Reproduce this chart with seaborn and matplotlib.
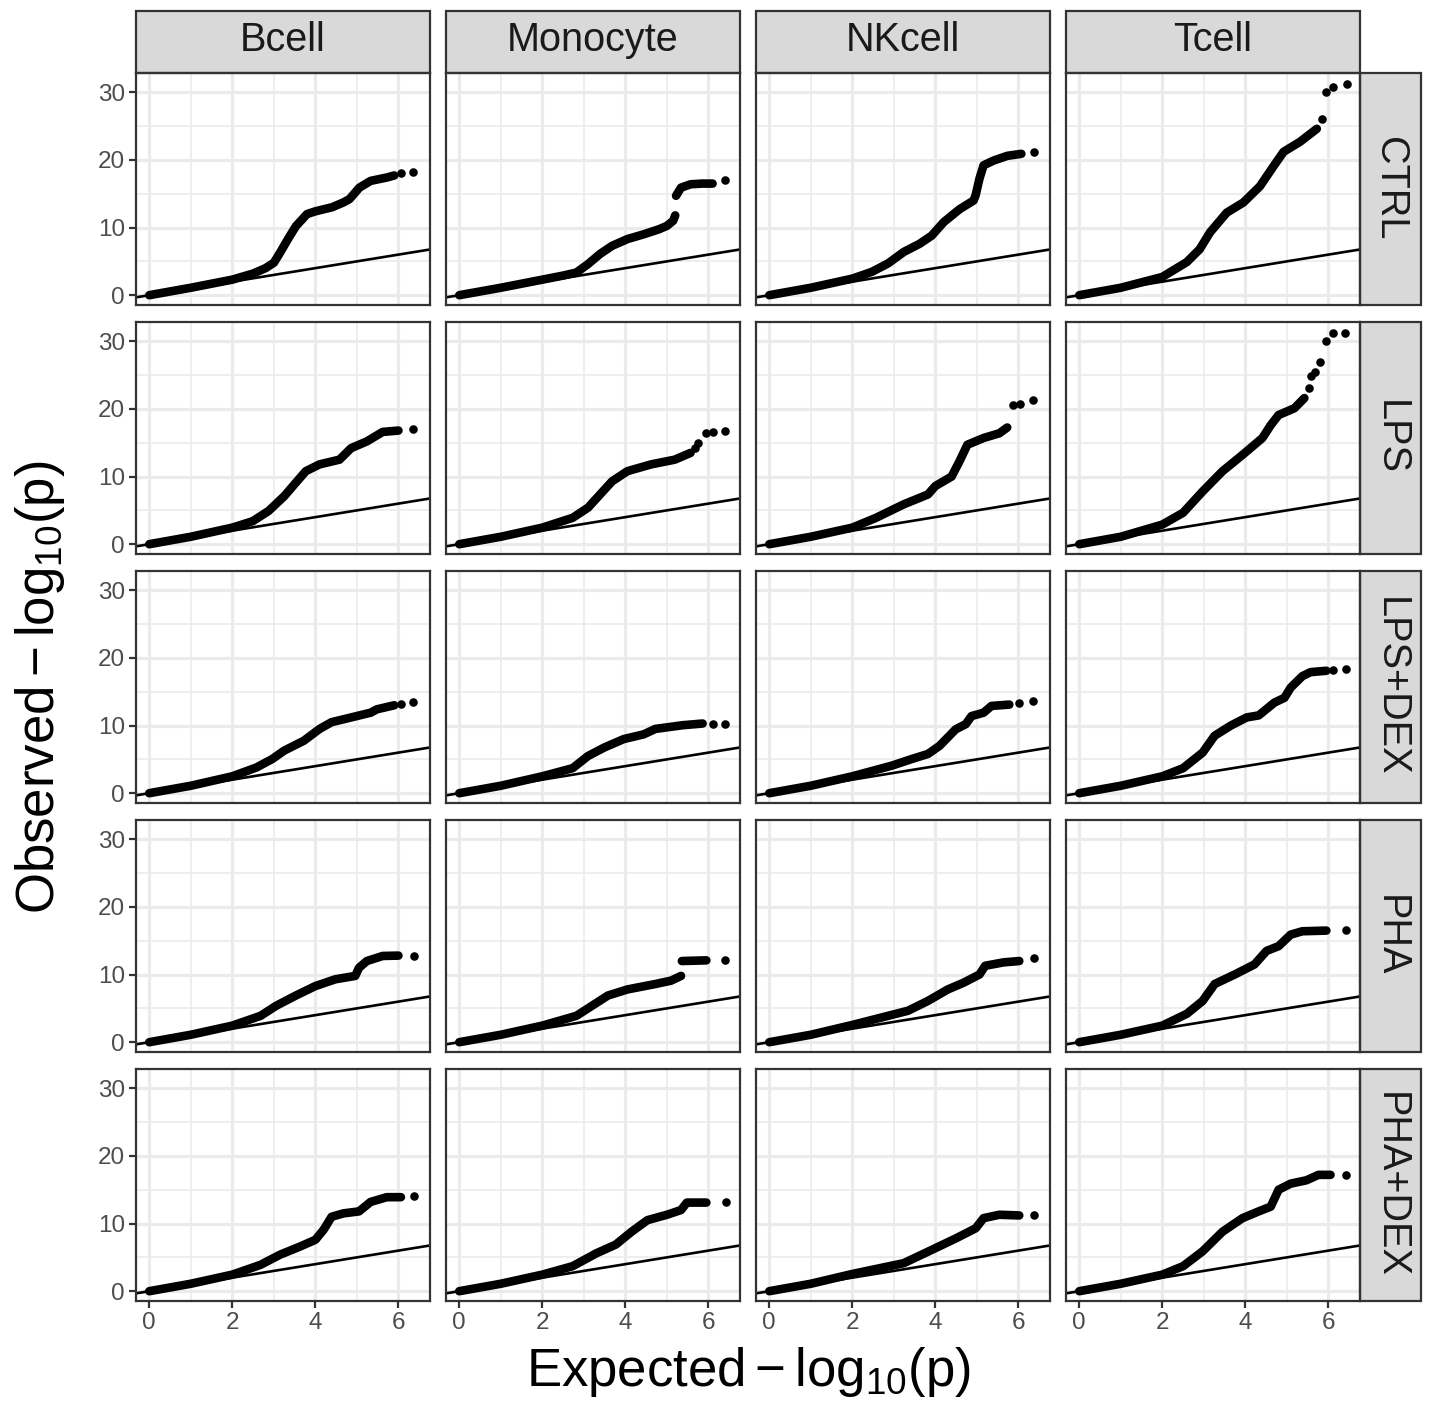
import numpy as np
import pandas as pd
import matplotlib
matplotlib.use("Agg")
import matplotlib.pyplot as plt
from matplotlib.patches import Rectangle
from matplotlib.ticker import FixedLocator
import seaborn as sns

cells = ["Bcell", "Monocyte", "NKcell", "Tcell"]
treatments = ["CTRL", "LPS", "LPS+DEX", "PHA", "PHA+DEX"]
nan = np.nan

# dense part of each QQ curve (expected vs observed -log10 p)
# nan marks a jump in the curve
bcell_ctrl_x = [0, 1, 2, 2.5, 2.8, 3.0, 3.15, 3.34, 3.53, 3.8, 4.0, 4.4, 4.67, 4.82, 5.06, 5.33, 5.72, 5.9]
bcell_ctrl_y = [0, 1.1, 2.3, 3.2, 4.0, 4.8, 6.3, 8.3, 10.2, 12.0, 12.4, 13.0, 13.7, 14.2, 15.9, 16.9, 17.4, 17.7]
bcell_ctrl_tail_x = [6.06, 6.36]
bcell_ctrl_tail_y = [18.1, 18.2]

monocyte_ctrl_x = [0, 1, 2, 2.5, 2.82, 3.1, 3.39, 3.68, 4.05, 4.44, 4.81, 5.0, 5.15, 5.2, nan, 5.22, 5.34, 5.57, 5.85, 6.1]
monocyte_ctrl_y = [0, 1.1, 2.3, 2.9, 3.35, 4.6, 6.1, 7.3, 8.3, 9.0, 9.75, 10.25, 11.0, 11.8, nan, 14.7, 15.9, 16.4, 16.5, 16.5]
monocyte_ctrl_tail_x = [6.4]
monocyte_ctrl_tail_y = [17.0]

nkcell_ctrl_x = [0, 1, 2, 2.47, 2.86, 3.24, 3.62, 3.91, 4.2, 4.58, 4.92, 4.97, 5.06, 5.16, 5.4, 5.73, 6.07]
nkcell_ctrl_y = [0, 1.1, 2.45, 3.45, 4.7, 6.4, 7.6, 8.8, 10.8, 12.7, 14.0, 14.8, 17.2, 19.2, 19.9, 20.6, 20.9]
nkcell_ctrl_tail_x = [6.38]
nkcell_ctrl_tail_y = [21.1]

tcell_ctrl_x = [0, 1, 2, 2.59, 2.9, 3.15, 3.55, 3.95, 4.35, 4.67, 4.92, 5.32, 5.72]
tcell_ctrl_y = [0, 1.1, 2.7, 4.9, 6.8, 9.3, 12.2, 13.7, 16.1, 19.0, 21.2, 22.7, 24.6]
tcell_ctrl_tail_x = [5.84, 5.94, 6.12, 6.44]
tcell_ctrl_tail_y = [26.1, 30.0, 30.8, 31.2]

bcell_lps_x = [0, 1, 2, 2.49, 2.87, 3.25, 3.53, 3.77, 4.1, 4.58, 4.86, 5.24, 5.62, 6.0]
bcell_lps_y = [0, 1.1, 2.45, 3.4, 4.9, 7.1, 9.1, 10.8, 11.8, 12.5, 14.2, 15.2, 16.6, 16.8]
bcell_lps_tail_x = [6.36]
bcell_lps_tail_y = [17.1]

monocyte_lps_x = [0, 1, 2, 2.73, 3.1, 3.39, 3.68, 4.05, 4.62, 5.19, 5.57]
monocyte_lps_y = [0, 1.1, 2.45, 3.9, 5.4, 7.35, 9.3, 10.8, 11.8, 12.5, 13.5]
monocyte_lps_tail_x = [5.67, 5.76, 5.94, 6.1, 6.39]
monocyte_lps_tail_y = [14.2, 14.95, 16.4, 16.6, 16.8]

nkcell_lps_x = [0, 1, 2, 2.57, 3.24, 3.82, 4.0, 4.39, 4.58, 4.77, 5.16, 5.54, 5.73]
nkcell_lps_y = [0, 1.1, 2.45, 3.9, 5.9, 7.35, 8.6, 10.0, 12.25, 14.7, 15.7, 16.4, 17.25]
nkcell_lps_tail_x = [5.88, 6.04, 6.36]
nkcell_lps_tail_y = [20.6, 20.7, 21.3]

tcell_lps_x = [0, 1, 2, 2.5, 2.97, 3.45, 3.93, 4.41, 4.61, 4.8, 5.18, 5.42]
tcell_lps_y = [0, 1.1, 2.9, 4.65, 7.8, 10.8, 13.2, 15.7, 17.6, 19.1, 20.1, 21.6]
tcell_lps_tail_x = [5.52, 5.57, 5.68, 5.8, 5.95, 6.12, 6.41]
tcell_lps_tail_y = [23.1, 24.9, 25.5, 26.9, 30.1, 31.2, 31.2]

bcell_lpsdex_x = [0, 1, 2, 2.58, 2.96, 3.25, 3.72, 4.1, 4.39, 4.86, 5.33, 5.48, 5.9]
bcell_lpsdex_y = [0, 1.1, 2.5, 3.8, 5.05, 6.3, 7.75, 9.5, 10.5, 11.2, 11.9, 12.4, 13.0]
bcell_lpsdex_tail_x = [6.06, 6.36]
bcell_lpsdex_tail_y = [13.2, 13.5]

monocyte_lpsdex_x = [0, 1, 2, 2.73, 3.1, 3.49, 3.96, 4.44, 4.72, 5.38, 5.86]
monocyte_lpsdex_y = [0, 1.1, 2.5, 3.7, 5.5, 6.75, 8.0, 8.7, 9.5, 10.05, 10.3]
monocyte_lpsdex_tail_x = [6.1, 6.4]
monocyte_lpsdex_tail_y = [10.2, 10.2]

nkcell_lpsdex_x = [0, 1, 2, 2.95, 3.43, 3.82, 4.1, 4.49, 4.73, 4.87, 5.16, 5.35, 5.78]
nkcell_lpsdex_y = [0, 1.1, 2.5, 4.07, 5.05, 5.8, 7.0, 9.45, 10.2, 11.4, 11.9, 12.9, 13.1]
nkcell_lpsdex_tail_x = [6.02, 6.36]
nkcell_lpsdex_tail_y = [13.4, 13.6]

tcell_lpsdex_x = [0, 1, 2, 2.5, 2.97, 3.26, 3.65, 4.03, 4.32, 4.7, 4.94, 5.09, 5.37, 5.57, 5.95]
tcell_lpsdex_y = [0, 1.1, 2.5, 3.7, 6.0, 8.5, 10.0, 11.2, 11.5, 13.4, 14.1, 15.6, 17.3, 17.9, 18.1]
tcell_lpsdex_tail_x = [6.1, 6.43]
tcell_lpsdex_tail_y = [18.2, 18.4]

bcell_pha_x = [0, 1, 2, 2.68, 3.06, 3.53, 4.0, 4.48, 4.96, 5.05, 5.24, 5.62, 6.0]
bcell_pha_y = [0, 1.1, 2.45, 3.9, 5.4, 6.9, 8.3, 9.3, 9.8, 11.0, 12.0, 12.75, 12.8]
bcell_pha_tail_x = [6.38]
bcell_pha_tail_y = [12.8]

monocyte_pha_x = [0, 1, 2, 2.82, 3.2, 3.58, 4.05, 4.72, 5.1, 5.34, nan, 5.36, 5.95]
monocyte_pha_y = [0, 1.1, 2.45, 3.9, 5.4, 6.9, 7.8, 8.6, 9.1, 9.8, nan, 12.0, 12.1]
monocyte_pha_tail_x = [6.4]
monocyte_pha_tail_y = [12.1]

nkcell_pha_x = [0, 1, 2, 3.34, 3.82, 4.3, 4.68, 5.06, 5.2, 5.64, 6.02]
nkcell_pha_y = [0, 1.1, 2.55, 4.65, 6.1, 7.8, 8.8, 10.0, 11.3, 11.8, 12.0]
nkcell_pha_tail_x = [6.38]
nkcell_pha_tail_y = [12.4]

tcell_pha_x = [0, 1, 2, 2.59, 2.97, 3.26, 3.74, 4.22, 4.51, 4.8, 5.09, 5.37, 5.95]
tcell_pha_y = [0, 1.1, 2.45, 4.2, 6.1, 8.6, 10.0, 11.5, 13.5, 14.2, 15.9, 16.4, 16.5]
tcell_pha_tail_x = [6.43]
tcell_pha_tail_y = [16.6]

bcell_phadex_x = [0, 1, 2, 2.68, 3.15, 3.63, 4.0, 4.2, 4.39, 4.67, 5.05, 5.33, 5.72, 6.06]
bcell_phadex_y = [0, 1.1, 2.45, 3.9, 5.4, 6.6, 7.6, 9.1, 11.0, 11.5, 11.8, 13.2, 13.9, 13.9]
bcell_phadex_tail_x = [6.38]
bcell_phadex_tail_y = [14.0]

monocyte_phadex_x = [0, 1, 2, 2.73, 3.3, 3.77, 4.15, 4.53, 5.0, 5.34, 5.48, 5.95]
monocyte_phadex_y = [0, 1.1, 2.45, 3.7, 5.6, 6.9, 8.8, 10.5, 11.3, 12.0, 13.1, 13.1]
monocyte_phadex_tail_x = [6.43]
monocyte_phadex_tail_y = [13.2]

nkcell_phadex_x = [0, 1, 2, 3.24, 3.91, 4.49, 4.97, 5.16, 5.54, 6.02]
nkcell_phadex_y = [0, 1.1, 2.55, 4.15, 6.1, 7.8, 9.3, 10.8, 11.3, 11.2]
nkcell_phadex_tail_x = [6.38]
nkcell_phadex_tail_y = [11.2]

tcell_phadex_x = [0, 1, 2, 2.5, 2.97, 3.45, 3.93, 4.32, 4.61, 4.8, 5.09, 5.47, 5.76, 6.05]
tcell_phadex_y = [0, 1.1, 2.45, 3.7, 5.9, 8.8, 10.8, 11.8, 12.5, 15.0, 15.9, 16.4, 17.2, 17.2]
tcell_phadex_tail_x = [6.43]
tcell_phadex_tail_y = [17.2]


def key(cell, trt):
    return cell.lower() + "_" + trt.lower().replace("+", "")


# long tables for seaborn
dense_rows, tail_rows = [], []
for cell in cells:
    for trt in treatments:
        k = key(cell, trt)
        xs = np.array(globals()[k + "_x"], dtype=float)
        ys = np.array(globals()[k + "_y"], dtype=float)
        seg = np.cumsum(np.isnan(xs))
        for x, y, s in zip(xs, ys, seg):
            if not np.isnan(x):
                dense_rows.append((cell, trt, x, y, s))
        for x, y in zip(globals()[k + "_tail_x"], globals()[k + "_tail_y"]):
            tail_rows.append((cell, trt, x, y))

dense = pd.DataFrame(dense_rows, columns=["cell", "trt", "expected", "observed", "seg"])
tail = pd.DataFrame(tail_rows, columns=["cell", "trt", "expected", "observed"])

sns.set_style("white")
plt.rcParams["font.family"] = ["Liberation Sans", "DejaVu Sans"]
plt.rcParams["mathtext.fontset"] = "custom"
plt.rcParams["mathtext.rm"] = "Liberation Sans"
plt.rcParams["mathtext.it"] = "Liberation Sans:italic"

W, H = 1431, 1410
fig, axes = plt.subplots(5, 4, figsize=(W / 100, H / 100), dpi=100, sharex=True, sharey=True)
fig.subplots_adjust(left=136 / W, right=1360 / W, top=1 - 73 / H, bottom=1 - 1301 / H,
                    wspace=16 / 294, hspace=17 / 232)

border = "#333333"
strip_fill = "#D9D9D9"

for i, trt in enumerate(treatments):
    for j, cell in enumerate(cells):
        ax = axes[i, j]
        d = dense[(dense.cell == cell) & (dense.trt == trt)]
        t = tail[(tail.cell == cell) & (tail.trt == trt)]
        ax.axline((0, 0), slope=1, color="black", lw=1.9, zorder=2)
        sns.lineplot(data=d, x="expected", y="observed", units="seg", estimator=None,
                     sort=False, color="black", lw=6.2, solid_capstyle="round",
                     solid_joinstyle="round", ax=ax, legend=False, zorder=3)
        sns.scatterplot(data=t, x="expected", y="observed", color="black", s=38,
                        linewidth=0, ax=ax, legend=False, zorder=3)

        ax.set_xlim(-0.32, 6.76)
        ax.set_ylim(-1.45, 32.85)
        ax.xaxis.set_major_locator(FixedLocator([0, 2, 4, 6]))
        ax.xaxis.set_minor_locator(FixedLocator([1, 3, 5]))
        ax.yaxis.set_major_locator(FixedLocator([0, 10, 20, 30]))
        ax.yaxis.set_minor_locator(FixedLocator([5, 15, 25]))
        ax.grid(which="major", color="#EBEBEB", lw=2.3)
        ax.grid(which="minor", color="#EBEBEB", lw=1.2)
        ax.set_axisbelow(True)
        ax.set_xlabel("")
        ax.set_ylabel("")
        for sp in ax.spines.values():
            sp.set_color(border)
            sp.set_linewidth(1.6)
            sp.set_visible(True)

        ax.tick_params(which="minor", length=0)
        ax.tick_params(which="major", length=5, width=1.6, color=border,
                       labelsize=17.5, labelcolor="#4D4D4D", pad=3,
                       left=(j == 0), labelleft=(j == 0),
                       bottom=(i == 4), labelbottom=(i == 4))

        if i == 0:
            h = 62 / 232
            ax.add_patch(Rectangle((0, 1.0), 1, h, transform=ax.transAxes, clip_on=False,
                                   facecolor=strip_fill, edgecolor=border, lw=1.6))
            ax.text(0.5, 1 + h / 2 + 0.01, cell, transform=ax.transAxes, ha="center", va="center",
                    fontsize=28.5, color="#1A1A1A")
        if j == 3:
            w = 61 / 294
            ax.add_patch(Rectangle((1.0, 0), w, 1, transform=ax.transAxes, clip_on=False,
                                   facecolor=strip_fill, edgecolor=border, lw=1.6))
            ax.text(1 + w / 2, 0.5, trt, transform=ax.transAxes, ha="center", va="center",
                    fontsize=28.5, color="#1A1A1A", rotation=-90)

fig.text(748 / W, 1 - 1372 / H, r"$\mathrm{Expected} - \mathrm{log}_{10}(\mathrm{p})$",
         ha="center", va="center", fontsize=38, color="black")
fig.text(40 / W, 1 - 687 / H, r"$\mathrm{Observed} - \mathrm{log}_{10}(\mathrm{p})$",
         ha="center", va="center", fontsize=38, rotation=90, color="black")

fig.savefig("out.png", dpi=100, facecolor="white")
